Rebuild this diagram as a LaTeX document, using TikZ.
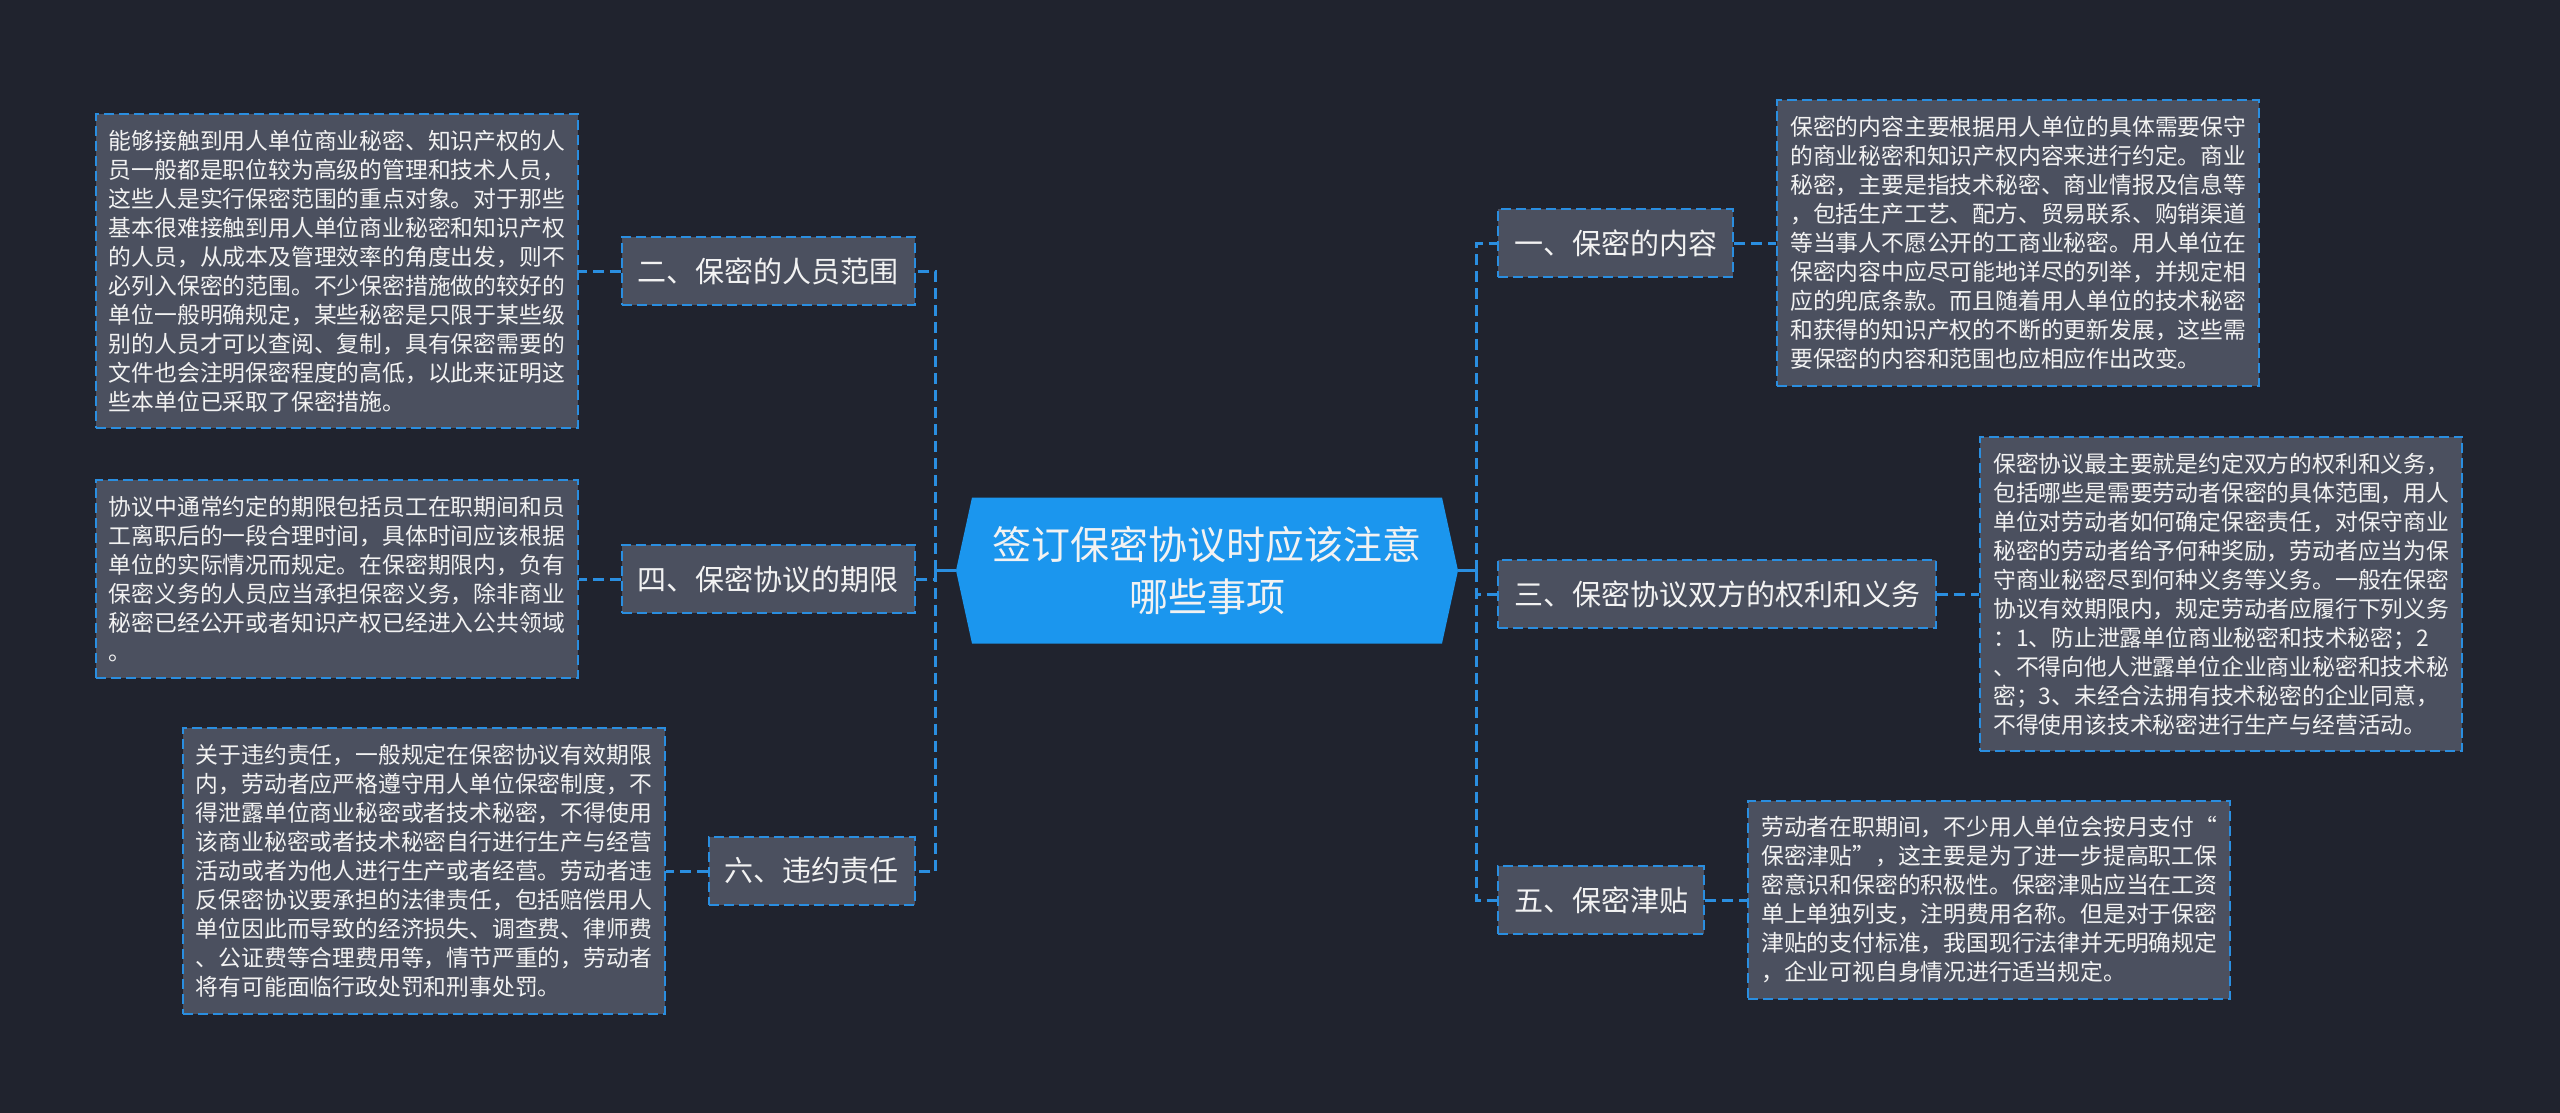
\documentclass[tikz,border=0pt]{standalone}
\usepackage{fontspec}
\setmainfont{Noto Sans CJK SC}
\usetikzlibrary{calc,positioning}

\definecolor{bgcol}{HTML}{20232E}
\definecolor{boxcol}{HTML}{4B505F}
\definecolor{linecol}{HTML}{2A8EE0}
\definecolor{rootcol}{HTML}{1B96EE}
\definecolor{txtcol}{HTML}{F2F2F2}

\begin{document}
\begin{tikzpicture}[x=1pt, y=-1pt,
    topicbox/.style={rectangle, fill=boxcol, draw=linecol, line width=2.2pt,
      dash pattern=on 10pt off 5pt, text=txtcol, inner xsep=16pt, inner ysep=0pt,
      minimum height=68pt, font=\fontsize{29}{34}\selectfont},
    notebox/.style={rectangle, fill=boxcol, draw=linecol, line width=2pt,
      dash pattern=on 10pt off 5pt, text=txtcol, text width=456pt, align=left,
      inner xsep=13pt, inner ysep=16pt, font=\fontsize{22.8}{29}\selectfont},
    link/.style={draw=linecol, line width=3pt, dash pattern=on 11pt off 6pt},
    rootline/.style={draw=linecol, line width=3.5pt}]

    \pgfmathsetmacro{\gap}{42}

    % 背景
    \fill[bgcol] (0,0) rectangle (2560,1113);
    \useasboundingbox (0,0) rectangle (2560,1113);

    % 中心主题
    \fill[rootcol] (956,570.5) -- (972,497.5) -- (1442,497.5) -- (1458,570.5)
        -- (1442,643.5) -- (972,643.5) -- cycle;
    \node[minimum width=502pt, minimum height=146pt, inner sep=0pt, align=center,
        text=txtcol, font=\fontsize{39}{52}\selectfont] (root) at (1207,570.5)
        {签订保密协议时应该注意\\哪些事项};

    % 左侧分支
    \node[topicbox, anchor=east] (b2) at (916,271) {二、保密的人员范围};
    \node[topicbox, anchor=east] (b4) at (916,579) {四、保密协议的期限};
    \node[topicbox, anchor=east] (b6) at (916,871) {六、违约责任};

    % 右侧分支
    \node[topicbox, anchor=west] (b1) at (1497,243) {一、保密的内容};
    \node[topicbox, anchor=west] (b3) at (1497,594) {三、保密协议双方的权利和义务};
    \node[topicbox, anchor=west] (b5) at (1497,900) {五、保密津贴};

    % 说明文字
    \node[notebox, left=\gap pt of b2] (t2) {能够接触到用人单位商业秘密、知识产权的人\\
        员一般都是职位较为高级的管理和技术人员，\\
        这些人是实行保密范围的重点对象。对于那些\\
        基本很难接触到用人单位商业秘密和知识产权\\
        的人员，从成本及管理效率的角度出发，则不\\
        必列入保密的范围。不少保密措施做的较好的\\
        单位一般明确规定，某些秘密是只限于某些级\\
        别的人员才可以查阅、复制，具有保密需要的\\
        文件也会注明保密程度的高低，以此来证明这\\
        些本单位已采取了保密措施。};
    \node[notebox, left=\gap pt of b4] (t4) {协议中通常约定的期限包括员工在职期间和员\\
        工离职后的一段合理时间，具体时间应该根据\\
        单位的实际情况而规定。在保密期限内，负有\\
        保密义务的人员应当承担保密义务，除非商业\\
        秘密已经公开或者知识产权已经进入公共领域\\
        。};
    \node[notebox, left=\gap pt of b6] (t6) {关于违约责任，一般规定在保密协议有效期限\\
        内，劳动者应严格遵守用人单位保密制度，不\\
        得泄露单位商业秘密或者技术秘密，不得使用\\
        该商业秘密或者技术秘密自行进行生产与经营\\
        活动或者为他人进行生产或者经营。劳动者违\\
        反保密协议要承担的法律责任，包括赔偿用人\\
        单位因此而导致的经济损失、调查费、律师费\\
        、公证费等合理费用等，情节严重的，劳动者\\
        将有可能面临行政处罚和刑事处罚。};
    \node[notebox, right=\gap pt of b1] (t1) {保密的内容主要根据用人单位的具体需要保守\\
        的商业秘密和知识产权内容来进行约定。商业\\
        秘密，主要是指技术秘密、商业情报及信息等\\
        ，包括生产工艺、配方、贸易联系、购销渠道\\
        等当事人不愿公开的工商业秘密。用人单位在\\
        保密内容中应尽可能地详尽的列举，并规定相\\
        应的兜底条款。而且随着用人单位的技术秘密\\
        和获得的知识产权的不断的更新发展，这些需\\
        要保密的内容和范围也应相应作出改变。};
    \node[notebox, right=\gap pt of b3] (t3) {保密协议最主要就是约定双方的权利和义务，\\
        包括哪些是需要劳动者保密的具体范围，用人\\
        单位对劳动者如何确定保密责任，对保守商业\\
        秘密的劳动者给予何种奖励，劳动者应当为保\\
        守商业秘密尽到何种义务等义务。一般在保密\\
        协议有效期限内，规定劳动者应履行下列义务\\
        ：1、防止泄露单位商业秘密和技术秘密；2\\
        、不得向他人泄露单位企业商业秘密和技术秘\\
        密；3、未经合法拥有技术秘密的企业同意，\\
        不得使用该技术秘密进行生产与经营活动。};
    \node[notebox, right=\gap pt of b5] (t5) {劳动者在职期间，不少用人单位会按月支付“\\
        保密津贴”，这主要是为了进一步提高职工保\\
        密意识和保密的积极性。保密津贴应当在工资\\
        单上单独列支，注明费用名称。但是对于保密\\
        津贴的支付标准，我国现行法律并无明确规定\\
        ，企业可视自身情况进行适当规定。};

    % 连线
    \coordinate (lj) at ($(root.west)+(-20,0)$);
    \coordinate (rj) at ($(root.east)+(18,0)$);
    \draw[rootline] (root.west) -- (lj);
    \draw[rootline] (root.east) -- (rj);
    \foreach \b in {b2,b4,b6} {
        \draw[link] (lj) |- (\b.east);
    }
    \foreach \b in {b1,b3,b5} {
        \draw[link] (rj) |- (\b.west);
    }
    \foreach \b/\t in {b2/t2,b4/t4,b6/t6} {
        \draw[link] (\b.west) -- (\t.east);
    }
    \foreach \b/\t in {b1/t1,b3/t3,b5/t5} {
        \draw[link] (\b.east) -- (\t.west);
    }

\end{tikzpicture}
\end{document}
